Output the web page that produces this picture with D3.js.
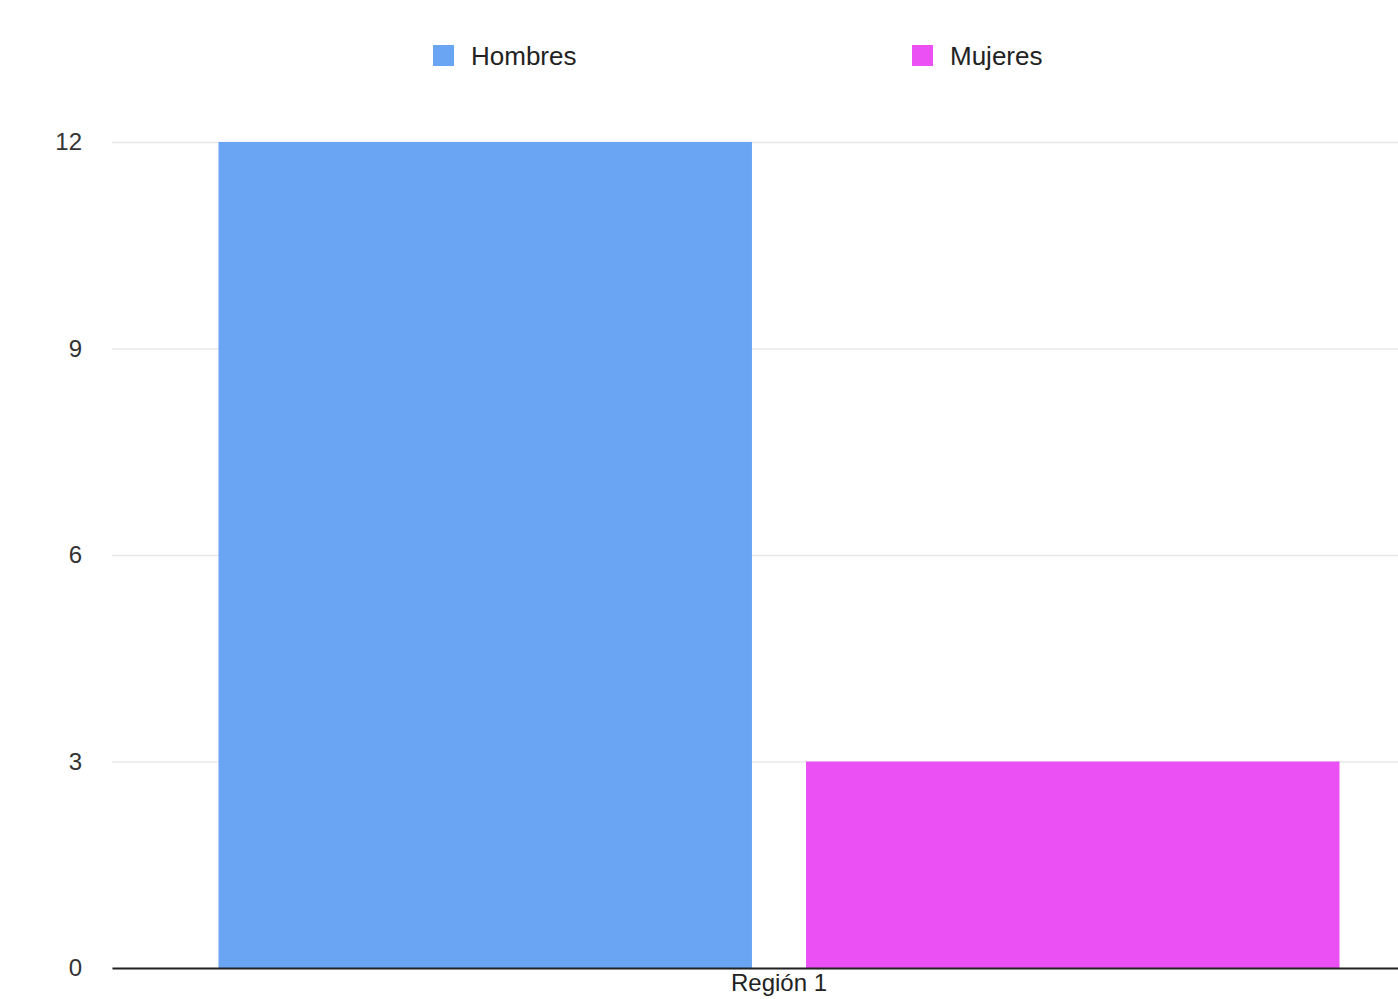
<!DOCTYPE html>
<html>
<head>
<meta charset="utf-8">
<script src="https://cdn.jsdelivr.net/npm/d3@7"></script>
<style>
  html, body { margin: 0; padding: 0; background: #fff; overflow: hidden; }
  text { font-family: "Liberation Sans", Arial, sans-serif; }
</style>
</head>
<body>
<div class="svg-container"></div>
<script>
//Data
const categories = ['Región 1'];
const seriesNames = ['Hombres', 'Mujeres'];
const seriesValues = [[12], [3]];   // one list per series, one value per category
const seriesColors = ['#69a5f2', '#eb50f5'];
const yTicks = [0, 3, 6, 9, 12];

const rows = categories.map((c, i) => ({
    category: c,
    values: seriesNames.map((s, j) => ({ key: s, value: seriesValues[j][i] }))
}));

//Margins - plot runs past the right edge of the picture
const margin = {top: 142, right: -48, bottom: 31, left: 112};
const W = 1398, H = 999;
const width = W - margin.left - margin.right;
const height = H - margin.top - margin.bottom;

const svg = d3.select('.svg-container')
    .append('svg')
    .attr('width', W)
    .attr('height', H);

const g = svg.append('g')
    .attr('transform', `translate(${margin.left}, ${margin.top})`);

const x0 = d3.scaleBand()
    .domain(categories)
    .range([0, width])
    .paddingOuter(0.095);

const x1 = d3.scaleBand()
    .domain(seriesNames)
    .range([0, x0.bandwidth()])
    .paddingInner(0.092);

const y = d3.scaleLinear()
    .domain([0, 12])
    .range([height, 0]);

const color = d3.scaleOrdinal().domain(seriesNames).range(seriesColors);

//Grid + y labels
const yAxis = d3.axisLeft(y)
    .tickValues(yTicks)
    .tickSize(-width)
    .tickPadding(30);

const yAxisDraw = g.append('g')
    .attr('class', 'y axis')
    .call(yAxis);
yAxisDraw.select('.domain').remove();
yAxisDraw.selectAll('.tick line').attr('stroke', '#e8e8e8').attr('stroke-width', 1.5);
yAxisDraw.selectAll('.tick text')
    .attr('fill', '#333')
    .style('font-size', '24px');

//Bars
const groups = g.selectAll('.cat')
    .data(rows)
    .enter()
    .append('g')
    .attr('class', 'cat')
    .attr('transform', d => `translate(${x0(d.category)}, 0)`);

groups.selectAll('rect')
    .data(d => d.values)
    .enter()
    .append('rect')
    .attr('x', d => x1(d.key))
    .attr('y', d => y(d.value))
    .attr('width', x1.bandwidth())
    .attr('height', d => height - y(d.value))
    .attr('fill', d => color(d.key));

//x axis - label kept just inside the bottom edge
const xAxis = d3.axisBottom(x0).tickSize(0).tickPadding(6);
const xAxisDraw = g.append('g')
    .attr('class', 'x axis')
    .attr('transform', `translate(0, ${height})`)
    .call(xAxis);
xAxisDraw.select('.domain').attr('stroke', '#222').attr('stroke-width', 2);
xAxisDraw.selectAll('.tick text')
    .attr('fill', '#222')
    .style('font-size', '24px');

//Legend
const legendX = [433, 912];
const legend = svg.selectAll('.legend')
    .data(seriesNames)
    .enter()
    .append('g')
    .attr('class', 'legend')
    .attr('transform', (d, i) => `translate(${legendX[i]}, 45)`);

legend.append('rect')
    .attr('width', 21)
    .attr('height', 21)
    .attr('fill', d => color(d));

legend.append('text')
    .attr('x', 38)
    .attr('y', 20)
    .attr('fill', '#222')
    .style('font-size', '26px')
    .text(d => d);
</script>
</body>
</html>
